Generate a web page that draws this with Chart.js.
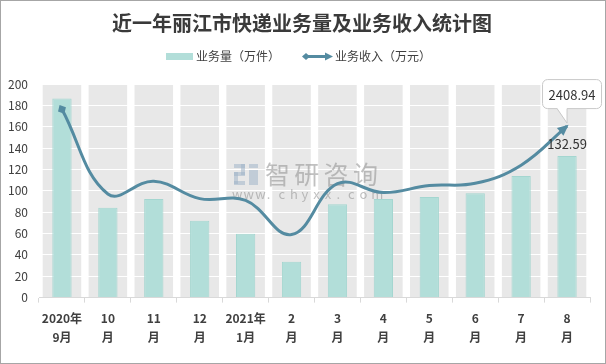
<!DOCTYPE html>
<html lang="zh">
<head>
    <meta charset="UTF-8">
    <title>近一年丽江市快递业务量及业务收入统计图</title>
    <script src="https://cdn.jsdelivr.net/npm/chart.js"></script>
    <style>
        body {
            margin: 0;
            padding: 0;
            background: #fff;
        }
        #chart {
            display: block;
        }
    </style>
</head>
<body>
    <canvas id="chart" width="606" height="364"></canvas>
    <script>
        // Data
        const months = [
            ['2020年', '9月'], ['10', '月'], ['11', '月'], ['12', '月'],
            ['2021年', '1月'], ['2', '月'], ['3', '月'], ['4', '月'],
            ['5', '月'], ['6', '月'], ['7', '月'], ['8', '月']
        ];
        // 业务量（万件）
        const volume = [186.5, 84.2, 92.4, 72.0, 59.8, 33.6, 87.4, 92.4, 94.3, 97.8, 113.8, 132.59];
        // 业务收入（万元）
        const revenue = [2645, 1455, 1635, 1390, 1365, 885, 1600, 1475, 1575, 1605, 1860, 2408.94];
        const yTicks = [0, 20, 40, 60, 80, 100, 120, 140, 160, 180, 200];

        const FONT = "'Noto Sans CJK SC', 'Noto Sans', sans-serif";
        const barColor = '#b2ded9';
        const barBorder = '#a4d6d0';
        const lineColor = '#548ba1';

        // Draws title, legend, grey column backgrounds, watermark, arrows and labels
        const decor = {
            id: 'decor',
            beforeDraw(chart) {
                const {ctx, chartArea: a, scales: {x}} = chart;
                ctx.save();
                ctx.fillStyle = '#fff';
                ctx.fillRect(0, 0, chart.width, chart.height);
                // grey column behind every category
                const w = (x.getPixelForValue(1) - x.getPixelForValue(0)) * 0.84;
                ctx.fillStyle = '#e8e8e8';
                months.forEach((m, i) => {
                    const cx = x.getPixelForValue(i);
                    ctx.fillRect(cx - w / 2, a.top, w, a.bottom - a.top);
                });
                ctx.restore();
            },
            beforeDatasetsDraw(chart) {
                const {ctx} = chart;
                ctx.save();
                // watermark
                ctx.fillStyle = 'rgba(160,180,200,0.55)';
                ctx.fillRect(234, 164, 11, 4);
                ctx.fillRect(241, 164, 4, 11);
                ctx.fillRect(234, 172, 11, 4);
                ctx.fillRect(234, 172, 4, 12);
                ctx.fillRect(234, 181, 11, 4);
                ctx.fillRect(249, 164, 9, 4);
                ctx.fillRect(249, 170, 9, 15);
                ctx.fillStyle = 'rgba(150,150,150,0.6)';
                ctx.font = '25px ' + FONT;
                ctx.textBaseline = 'middle';
                ctx.textAlign = 'left';
                '智研咨询'.split('').forEach((c, i) => ctx.fillText(c, 265 + i * 29.3, 174));
                ctx.font = '13px ' + FONT;
                'www.chyxx.com'.split('').forEach((c, i) => ctx.fillText(c, 232 + i * 11.6, 194));
                ctx.restore();
            },
            afterDatasetsDraw(chart) {
                const {ctx} = chart;
                const meta = chart.getDatasetMeta(1);
                const pts = meta.data;
                const p0 = pts[0];
                const pn = pts[pts.length - 1];
                ctx.save();
                ctx.fillStyle = lineColor;
                // diamond at start
                let ang = Math.atan2(p0.y - p0.cp2y, p0.x - p0.cp2x);
                ctx.translate(p0.x, p0.y);
                ctx.rotate(ang);
                ctx.beginPath();
                ctx.moveTo(5, 0);
                ctx.lineTo(0, 4.5);
                ctx.lineTo(-5, 0);
                ctx.lineTo(0, -4.5);
                ctx.closePath();
                ctx.fill();
                ctx.setTransform(1, 0, 0, 1, 0, 0);
                // arrow head at end
                ang = Math.atan2(pn.y - pn.cp1y, pn.x - pn.cp1x);
                ctx.translate(pn.x, pn.y);
                ctx.rotate(ang);
                ctx.beginPath();
                ctx.moveTo(2, 0);
                ctx.lineTo(-9, 5);
                ctx.lineTo(-9, -5);
                ctx.closePath();
                ctx.fill();
                ctx.setTransform(1, 0, 0, 1, 0, 0);

                // value label on last bar
                const bars = chart.getDatasetMeta(0).data;
                const lb = bars[bars.length - 1];
                ctx.fillStyle = '#333';
                ctx.font = '13px ' + FONT;
                ctx.textAlign = 'center';
                ctx.textBaseline = 'middle';
                ctx.fillText(volume[volume.length - 1].toFixed(2), lb.x, lb.y - 12);

                // callout for last revenue point
                const bx = pn.x - 25, by = pn.y - 47, bw = 59, bh = 29;
                ctx.fillStyle = '#fff';
                ctx.strokeStyle = '#c9c9c9';
                ctx.lineWidth = 1;
                ctx.beginPath();
                ctx.roundRect(bx + 0.5, by + 0.5, bw, bh, 5);
                ctx.fill();
                ctx.stroke();
                ctx.beginPath();
                ctx.moveTo(pn.x - 10, by + bh);
                ctx.lineTo(pn.x, pn.y - 3);
                ctx.lineTo(pn.x, by + bh);
                ctx.closePath();
                ctx.fill();
                ctx.beginPath();
                ctx.moveTo(pn.x - 10, by + bh + 0.5);
                ctx.lineTo(pn.x, pn.y - 3);
                ctx.lineTo(pn.x, by + bh + 0.5);
                ctx.stroke();
                ctx.fillStyle = '#333';
                ctx.fillText(revenue[revenue.length - 1].toFixed(2), bx + bw / 2 + 0.5, by + bh / 2 + 1);
                ctx.restore();
            },
            afterDraw(chart) {
                const {ctx} = chart;
                ctx.save();
                // title
                ctx.fillStyle = '#3a3a3a';
                ctx.font = 'bold 20px ' + FONT;
                ctx.textAlign = 'center';
                ctx.textBaseline = 'middle';
                ctx.fillText('近一年丽江市快递业务量及业务收入统计图', 302, 23);
                // legend
                ctx.font = '12px ' + FONT;
                ctx.textAlign = 'left';
                ctx.fillStyle = barColor;
                ctx.fillRect(166, 53, 27, 7);
                ctx.fillStyle = '#404040';
                ctx.fillText(chart.data.datasets[0].label, 196, 56.5);
                ctx.strokeStyle = lineColor;
                ctx.lineWidth = 3;
                ctx.beginPath();
                ctx.moveTo(308, 56.5);
                ctx.lineTo(328, 56.5);
                ctx.stroke();
                ctx.fillStyle = lineColor;
                ctx.beginPath();
                ctx.moveTo(302, 56.5); ctx.lineTo(306, 53); ctx.lineTo(310, 56.5); ctx.lineTo(306, 60);
                ctx.closePath(); ctx.fill();
                ctx.beginPath();
                ctx.moveTo(333, 56.5); ctx.lineTo(325, 52.5); ctx.lineTo(325, 60.5);
                ctx.closePath(); ctx.fill();
                ctx.fillStyle = '#404040';
                ctx.fillText(chart.data.datasets[1].label, 335, 56.5);
                // frame
                ctx.strokeStyle = '#a6a6a6';
                ctx.lineWidth = 1;
                ctx.strokeRect(0.5, 0.5, chart.width - 1, chart.height - 1);
                ctx.restore();
            }
        };

        new Chart(document.getElementById('chart'), {
            data: {
                labels: months,
                datasets: [{
                    type: 'bar',
                    label: '业务量（万件）',
                    data: volume,
                    backgroundColor: barColor,
                    borderColor: barBorder,
                    borderWidth: 1,
                    barPercentage: 0.42,
                    categoryPercentage: 1,
                    yAxisID: 'y',
                    order: 2
                }, {
                    type: 'line',
                    label: '业务收入（万元）',
                    data: revenue,
                    borderColor: lineColor,
                    borderWidth: 3,
                    tension: 0.4,
                    pointRadius: 0,
                    fill: false,
                    yAxisID: 'y1',
                    order: 1
                }]
            },
            options: {
                responsive: false,
                animation: false,
                layout: {
                    padding: {top: 84, right: 16, bottom: 11, left: 0}
                },
                plugins: {
                    legend: {display: false},
                    title: {display: false},
                    tooltip: {enabled: false}
                },
                scales: {
                    x: {
                        grid: {
                            drawOnChartArea: false,
                            color: '#d9d9d9',
                            tickLength: 5
                        },
                        border: {color: '#d9d9d9'},
                        ticks: {
                            color: '#404040',
                            font: {family: FONT, size: 12, weight: 'bold', lineHeight: 1.6},
                            maxRotation: 0,
                            autoSkip: false,
                            padding: 6
                        }
                    },
                    y: {
                        min: 0,
                        max: 200,
                        afterBuildTicks: s => { s.ticks = yTicks.map(v => ({value: v})); },
                        afterFit: s => { s.width = 39; },
                        grid: {
                            color: c => c.tick && c.tick.value === 0 ? 'rgba(0,0,0,0)' : '#ffffff',
                            drawTicks: false
                        },
                        border: {display: false},
                        ticks: {
                            color: '#404040',
                            font: {family: FONT, size: 12},
                            padding: 11
                        }
                    },
                    y1: {
                        display: false,
                        min: 0,
                        max: 3000
                    }
                }
            },
            plugins: [decor]
        });
    </script>
</body>
</html>
